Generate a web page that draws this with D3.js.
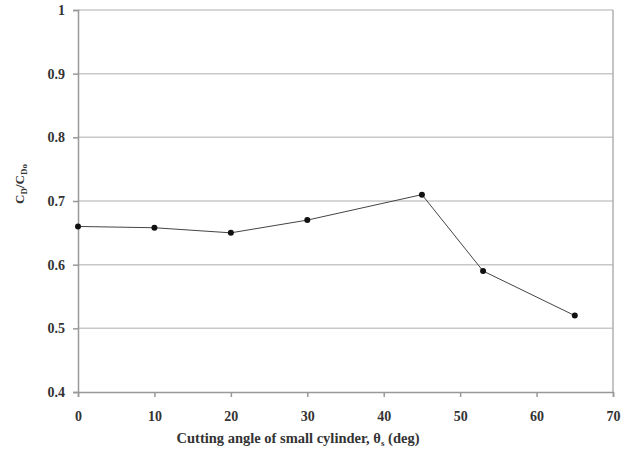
<!DOCTYPE html>
<html>
<head>
<meta charset="utf-8">
<script src="https://cdn.jsdelivr.net/npm/d3@7"></script>
<style>
  body { margin: 0; background: #fff; }
  text { font-family: "Liberation Serif", "Times New Roman", serif; font-weight: bold; fill: #333; }
</style>
</head>
<body>
<script>
const width = 626;
const height = 452;

const angles = [0, 10, 20, 30, 45, 53, 65];
const ratios = [0.66, 0.658, 0.65, 0.67, 0.71, 0.59, 0.52];
const xTicks = [0, 10, 20, 30, 40, 50, 60, 70];
const yTicks = [0.4, 0.5, 0.6, 0.7, 0.8, 0.9, 1];

const margin = {top: 10, right: 13, bottom: 60, left: 78};

let svg = d3.select('body').append('svg')
            .attr('width', width)
            .attr('height', height);

const x = d3.scaleLinear().domain([0, 70]).range([margin.left, width - margin.right]);
const y = d3.scaleLinear().domain([0.4, 1]).range([height - margin.bottom, margin.top]);

// gridlines
svg.append('g')
    .selectAll('line')
    .data(yTicks.slice(1))
    .enter()
    .append('line')
    .attr('x1', x(0))
    .attr('x2', x(70))
    .attr('y1', d => y(d))
    .attr('y2', d => y(d))
    .attr('stroke', '#c8c8c8')
    .attr('stroke-width', 1.5);

// right border
svg.append('line')
    .attr('x1', x(70)).attr('x2', x(70))
    .attr('y1', y(1)).attr('y2', y(0.4))
    .attr('stroke', '#b0b0b0')
    .attr('stroke-width', 1.5);

const xAxis = svg.append('g')
    .attr('transform', `translate(0,${y(0.4)})`)
    .call(d3.axisBottom(x).tickValues(xTicks).tickSize(5).tickPadding(14).tickFormat(d3.format('d')));

const yAxis = svg.append('g')
    .attr('transform', `translate(${x(0)},0)`)
    .call(d3.axisLeft(y).tickValues(yTicks).tickSize(5).tickPadding(8).tickFormat(d => d === 1 ? '1' : d3.format('.1f')(d)));

[xAxis, yAxis].forEach(a => {
    a.select('.domain').attr('stroke', '#999').attr('stroke-width', 1.5);
    a.selectAll('.tick line').attr('stroke', '#999').attr('stroke-width', 1.5);
    a.selectAll('.tick text').style('font-size', '14px').style('font-family', '"Liberation Serif", serif').style('font-weight', 'bold').attr('fill', '#333');
});

// data line
const pts = angles.map((a, i) => [a, ratios[i]]);
svg.append('path')
    .datum(pts)
    .attr('fill', 'none')
    .attr('stroke', '#444')
    .attr('stroke-width', 1)
    .attr('d', d3.line().x(d => x(d[0])).y(d => y(d[1])));

svg.selectAll('circle')
    .data(pts)
    .enter()
    .append('circle')
    .attr('cx', d => x(d[0]))
    .attr('cy', d => y(d[1]))
    .attr('r', 3)
    .attr('fill', '#111');

// x title
let xt = svg.append('text')
    .attr('x', 298)
    .attr('y', 443)
    .attr('text-anchor', 'middle')
    .style('font-size', '14.5px');
xt.append('tspan').text('Cutting angle of small cylinder, θ');
xt.append('tspan').attr('dy', 3).style('font-size', '9px').text('s');
xt.append('tspan').attr('dy', -3).text(' (deg)');

// y title
let yt = svg.append('text')
    .attr('transform', `translate(24,184) rotate(-90)`)
    .attr('text-anchor', 'middle')
    .style('font-size', '13px');
yt.append('tspan').text('C');
yt.append('tspan').attr('dy', 3).style('font-size', '9px').text('D');
yt.append('tspan').attr('dy', -3).text('/C');
yt.append('tspan').attr('dy', 3).style('font-size', '9px').text('Do');
</script>
</body>
</html>
